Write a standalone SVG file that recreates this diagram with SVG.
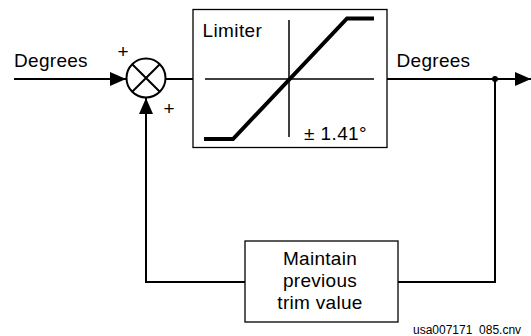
<svg xmlns="http://www.w3.org/2000/svg" width="531" height="336" viewBox="0 0 531 336">
<style>
text{font-family:"Liberation Sans",Arial,sans-serif;fill:#000}
.t{font-size:19px;letter-spacing:0.3px}
.ln{stroke:#000;stroke-width:2;fill:none}
.bx{stroke:#000;stroke-width:1.3;fill:#fff}
</style>
<defs>
<marker id="ah" markerUnits="userSpaceOnUse" markerWidth="17" markerHeight="14" refX="16" refY="7" orient="auto">
<path d="M0,0 L16,7 L0,14 Z" fill="#000"/>
</marker>
</defs>
<rect width="531" height="336" fill="#fff"/>
<g id="connectors">
<path class="ln" d="M14,79 H126" marker-end="url(#ah)"/>
<path class="ln" d="M166,79 H193"/>
<path class="ln" d="M387,79 H531" marker-end="url(#ah)"/>
<path class="ln" d="M495,79 V282 H398"/>
<path class="ln" d="M245,282 H146 V98" marker-end="url(#ah)"/>
<circle cx="495" cy="79" r="3" fill="#000"/>
<text class="t" x="14" y="67">Degrees</text>
<text class="t" x="396.5" y="67">Degrees</text>
<text x="123" y="57.5" font-size="19" text-anchor="middle">+</text>
<text x="169" y="114.5" font-size="19" text-anchor="middle">+</text>
</g>
<g id="sum">
<circle cx="146" cy="78" r="19.5" fill="#fff" stroke="#000" stroke-width="2"/>
<path class="ln" d="M132.2,64.2 L159.8,91.8 M159.8,64.2 L132.2,91.8" stroke-width="1.8"/>
</g>
<g id="limiter">
<rect class="bx" x="193" y="9.5" width="194" height="138"/>
<path d="M205,79 H374 M289,20 V137" stroke="#000" stroke-width="1.5" fill="none"/>
<path d="M204,139 H233 L347,18.5 H374" stroke="#000" stroke-width="4" fill="none"/>
<text class="t" x="202.5" y="36.5" style="letter-spacing:0.4px">Limiter</text>
<text class="t" x="304" y="140" style="letter-spacing:0.4px">± 1.41°</text>
</g>
<g id="maintain">
<rect class="bx" x="245" y="241" width="153" height="81"/>
<text class="t" x="320" y="265" text-anchor="middle">Maintain</text>
<text class="t" x="320" y="287" text-anchor="middle">previous</text>
<text class="t" x="320" y="308.5" text-anchor="middle">trim value</text>
</g>
<text x="413" y="334" font-size="12">usa007171_085.cnv</text>
</svg>
